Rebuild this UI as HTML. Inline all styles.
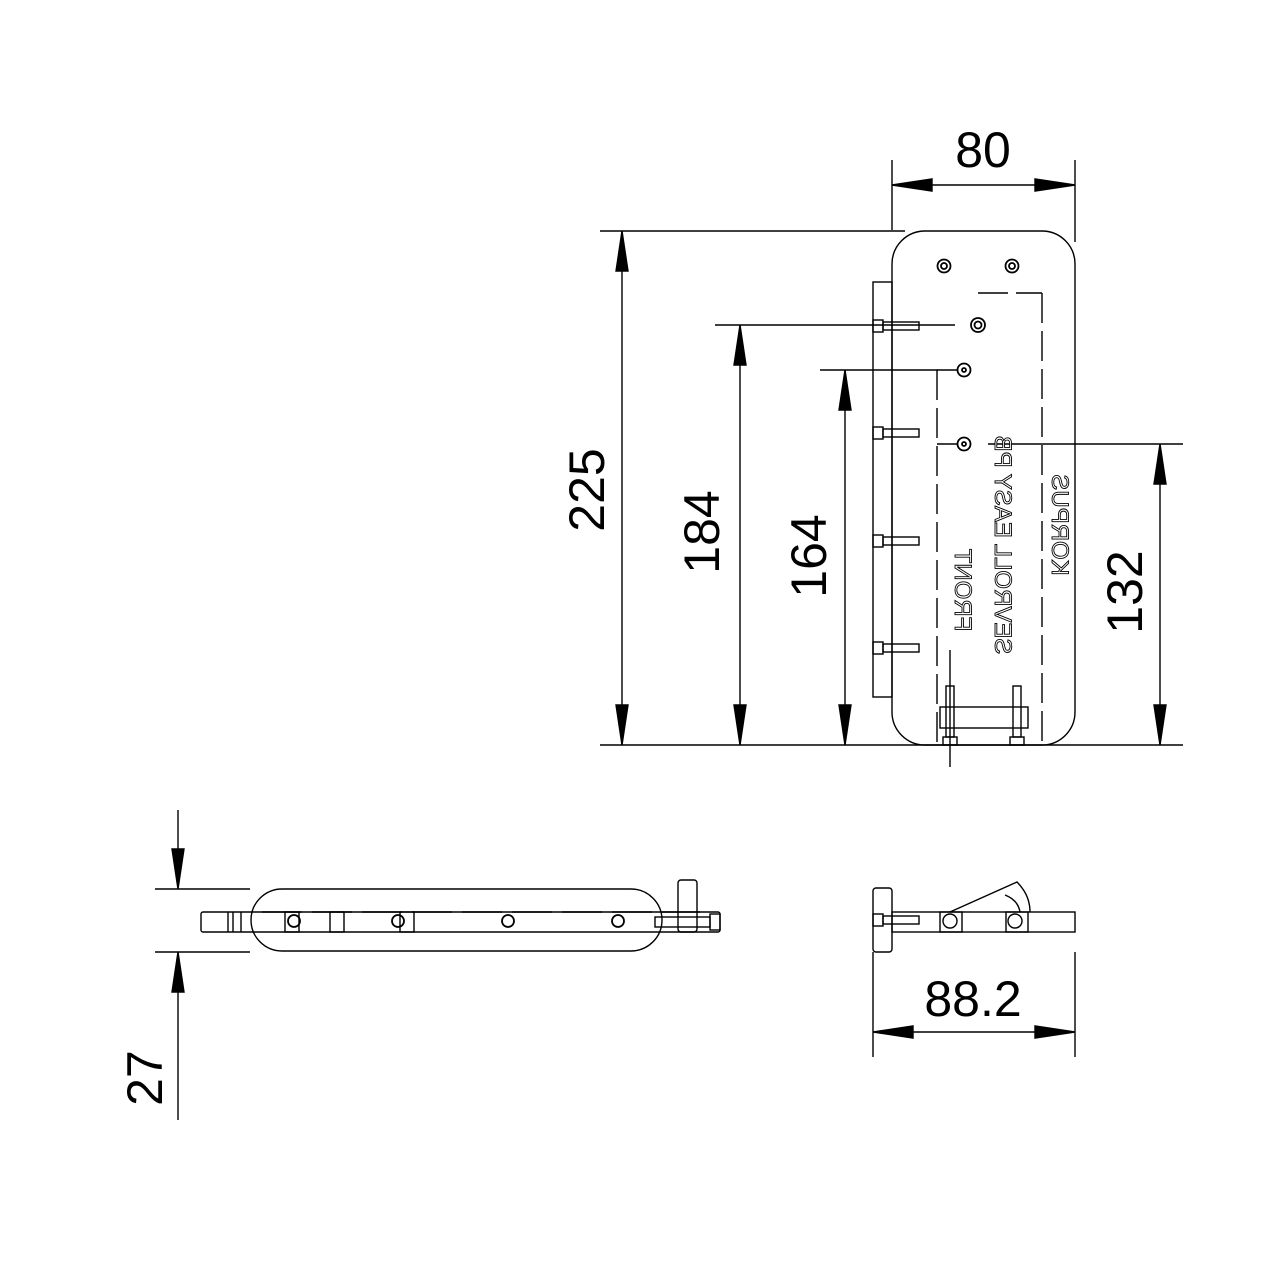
<!DOCTYPE html>
<html><head><meta charset="utf-8"><style>html,body{margin:0;padding:0;background:#fff}svg{display:block}</style></head>
<body>
<svg width="1280" height="1280" viewBox="0 0 1280 1280" xmlns="http://www.w3.org/2000/svg" font-family="Liberation Sans, sans-serif">
<g stroke="#000" stroke-width="1.4" fill="none">
<!-- dim 80 -->
<line x1="892" y1="160" x2="892" y2="230"/>
<line x1="1075" y1="160" x2="1075" y2="242"/>
<line x1="932" y1="185" x2="1035" y2="185"/>
<path d="M892,185 L932,179 L932,191 Z M1075,185 L1035,179 L1035,191 Z" fill="#000"/>
<!-- 225 -->
<line x1="600" y1="231" x2="905" y2="231"/>
<line x1="600" y1="745" x2="1183" y2="745"/>
<line x1="622" y1="231" x2="622" y2="745"/>
<path d="M622,231 L616,271 L628,271 Z M622,745 L616,705 L628,705 Z" fill="#000"/>
<!-- 184 -->
<line x1="715" y1="325" x2="955" y2="325"/>
<line x1="740" y1="325" x2="740" y2="745"/>
<path d="M740,325 L734,365 L746,365 Z M740,745 L734,705 L746,705 Z" fill="#000"/>
<!-- 164 -->
<line x1="820" y1="370" x2="938" y2="370"/>
<line x1="845" y1="370" x2="845" y2="745"/>
<path d="M845,370 L839,410 L851,410 Z M845,745 L839,705 L851,705 Z" fill="#000"/>
<!-- 132 -->
<line x1="988" y1="444" x2="1183" y2="444"/>
<line x1="1160" y1="444" x2="1160" y2="745"/>
<path d="M1160,444 L1154,484 L1166,484 Z M1160,745 L1154,705 L1166,705 Z" fill="#000"/>

<!-- plate -->
<rect x="892" y="231" width="183" height="514" rx="33"/>
<rect x="873" y="282" width="19" height="415"/>
<g>
<rect x="873" y="320" width="10" height="12"/><rect x="883" y="322" width="36" height="8"/>
<rect x="873" y="427" width="10" height="12"/><rect x="883" y="429" width="36" height="8"/>
<rect x="873" y="535" width="10" height="12"/><rect x="883" y="537" width="36" height="8"/>
<rect x="873" y="642" width="10" height="12"/><rect x="883" y="644" width="36" height="8"/>
</g>
<g stroke-width="1.8">
<circle cx="944" cy="266" r="6.5"/><circle cx="944" cy="266" r="3"/>
<circle cx="1012" cy="266" r="6.5"/><circle cx="1012" cy="266" r="3"/>
<circle cx="978" cy="325" r="7"/><circle cx="978" cy="325" r="3.5"/>
<circle cx="964" cy="370" r="6.5"/><circle cx="964" cy="370" r="2"/>
<circle cx="964" cy="444" r="6.5"/><circle cx="964" cy="444" r="2"/>
</g>
<g stroke-dasharray="30,8">
<line x1="1042" y1="293" x2="1042" y2="745"/>
<line x1="978" y1="293" x2="1042" y2="293"/>
<line x1="937" y1="370" x2="937" y2="745"/>
<line x1="937" y1="370" x2="958" y2="370"/>
<line x1="937" y1="444" x2="958" y2="444"/>
</g>
<rect x="940" y="707" width="88" height="21"/>
<rect x="946" y="686" width="8" height="51"/><rect x="1013" y="686" width="8" height="51"/>
<rect x="943" y="737" width="14" height="8"/><rect x="1010" y="737" width="14" height="8"/>
<line x1="950" y1="650" x2="950" y2="767"/>

<!-- bottom left view -->
<line x1="155" y1="889" x2="250" y2="889"/>
<line x1="155" y1="952" x2="250" y2="952"/>
<line x1="178" y1="810" x2="178" y2="849"/>
<line x1="178" y1="992" x2="178" y2="1120"/>
<path d="M178,889 L172,849 L184,849 Z M178,952 L172,992 L184,992 Z" fill="#000"/>
<rect x="251" y="889" width="411" height="62" rx="31"/>
<rect x="201" y="912" width="519" height="20" rx="2"/>
<line x1="228" y1="912" x2="228" y2="932"/><line x1="233" y1="912" x2="233" y2="932"/><line x1="241" y1="912" x2="241" y2="932"/>
<rect x="285" y="912" width="14" height="20"/><rect x="330" y="912" width="14" height="20"/><rect x="400" y="912" width="14" height="20"/>
<g stroke-width="1.8">
<circle cx="294" cy="921" r="6"/><circle cx="398" cy="921" r="6"/><circle cx="508" cy="921" r="6"/><circle cx="618" cy="921" r="6"/>
</g>
<line x1="262" y1="912" x2="700" y2="912" stroke-dasharray="40,10"/>
<rect x="678" y="880" width="19" height="52" rx="3"/>
<rect x="655" y="917" width="55" height="10"/><rect x="710" y="914" width="10" height="16"/>

<!-- bottom right view -->
<rect x="873" y="888" width="19" height="64" rx="3"/>
<rect x="892" y="912" width="183" height="20"/>
<rect x="873" y="914" width="10" height="12"/><rect x="883" y="916" width="36" height="8"/>
<rect x="940" y="912" width="22" height="20"/><rect x="1006" y="912" width="22" height="20"/>
<circle cx="950" cy="921" r="7"/><circle cx="1015" cy="921" r="7"/>
<path d="M950,912 L1017,882 Q1030,895 1030,912"/>
<path d="M1005,895 Q1018,900 1020,912"/>
<line x1="873" y1="952" x2="873" y2="1057"/>
<line x1="1075" y1="952" x2="1075" y2="1057"/>
<line x1="913" y1="1032" x2="1035" y2="1032"/>
<path d="M873,1032 L913,1026 L913,1038 Z M1075,1032 L1035,1026 L1035,1038 Z" fill="#000"/>
</g>

<g fill="#000" font-size="50">
<text x="983" y="167" text-anchor="middle">80</text>
<text transform="translate(604,490) rotate(-90)" text-anchor="middle">225</text>
<text transform="translate(719,532) rotate(-90)" text-anchor="middle">184</text>
<text transform="translate(826,556) rotate(-90)" text-anchor="middle">164</text>
<text transform="translate(1142,592) rotate(-90)" text-anchor="middle">132</text>
<text transform="translate(162,1078) rotate(-90)" text-anchor="middle">27</text>
<text x="973" y="1016" text-anchor="middle">88.2</text>
</g>
<g fill="#fff" stroke="#000" stroke-width="0.9" font-size="24">
<text transform="translate(955,590) rotate(90) scale(-1,1)" text-anchor="middle">FRONT</text>
<text transform="translate(995,545) rotate(90) scale(-1,1)" text-anchor="middle">SEVROLL EASY PB</text>
<text transform="translate(1052,525) rotate(90) scale(-1,1)" text-anchor="middle">KORPUS</text>
</g>
</svg>
</body></html>
